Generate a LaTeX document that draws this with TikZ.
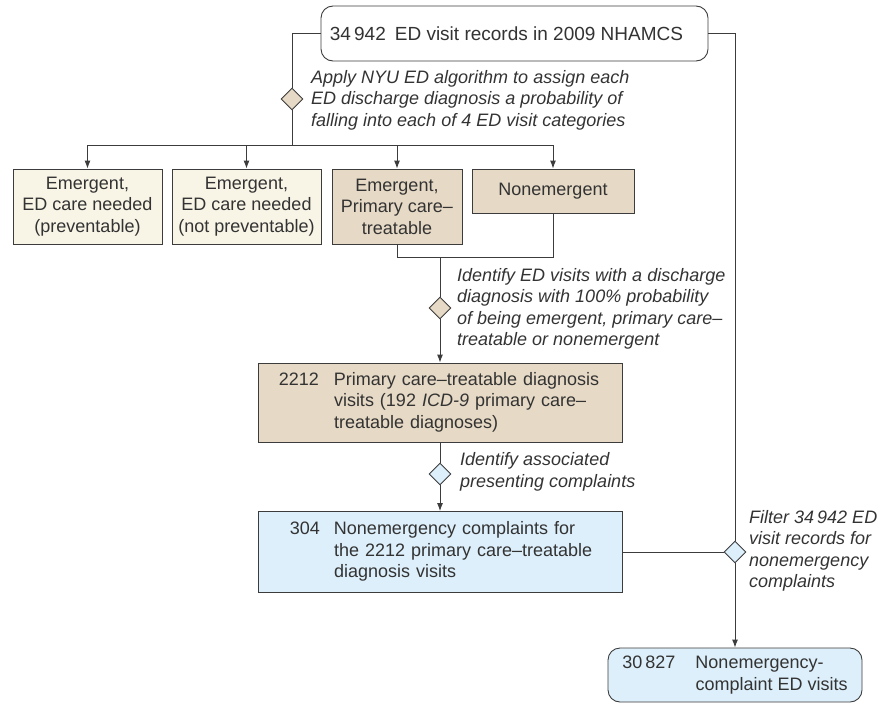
\documentclass[tikz,border=0pt]{standalone}
\usepackage{fontspec}
\setmainfont{Liberation Sans}
\usetikzlibrary{shapes.geometric,arrows.meta}
\definecolor{cream}{HTML}{F8F4E6}
\definecolor{tan}{HTML}{E6D9C5}
\definecolor{lblue}{HTML}{DDEFFA}
\definecolor{txt}{HTML}{333333}
\definecolor{ln}{HTML}{3C3C3C}
\begin{document}
\begin{tikzpicture}[x=1pt,y=1pt,
  font=\fontsize{18}{21.5}\selectfont, text=txt,
  box/.style={draw=ln, line width=0.9pt, inner sep=0pt, align=center},
  rbox/.style={box, rounded corners=12pt},
  dia/.style={diamond, draw=ln, line width=0.9pt, inner sep=0pt, minimum width=22pt, minimum height=22pt},
  note/.style={anchor=west, align=left, inner sep=0pt, font=\fontsize{18}{21.5}\selectfont\itshape},
  conn/.style={draw=ln, line width=0.9pt},
  arr/.style={conn, -{Latex[length=8pt,width=6pt]}}]
\useasboundingbox (0,0) rectangle (885,-704);

% top box
\node[rbox, fill=white, minimum width=387pt, minimum height=55pt, font=\fontsize{19}{22}\selectfont] (top) at (514.5,-33.5)
  {34\,942\hspace{9pt}ED visit records in 2009 NHAMCS\hspace{16pt}};

% diamond 1 and annotation
\node[dia, fill=tan] (d1) at (292,-99) {};
\node[note] (a1) at (311,-100) {Apply NYU ED algorithm to assign each\\ED discharge diagnosis a probability of\\falling into each of 4 ED visit categories};

% four category boxes
\node[box, fill=cream, minimum width=149pt, minimum height=75pt] (c1) at (87.5,-206.5) {Emergent,\\ED care needed\\(preventable)};
\node[box, fill=cream, minimum width=149pt, minimum height=75pt] (c2) at (246.5,-206.5) {Emergent,\\ED care needed\\(not preventable)};
\node[box, fill=tan, minimum width=130pt, minimum height=75pt] (c3) at (397,-206.5) {Emergent,\\Primary care–\\treatable};
\node[box, fill=tan, minimum width=162pt, minimum height=44pt] (c4) at (553,-191) {Nonemergent};

\coordinate (bus) at (292,-145);
\draw[conn] (top.west) -| (d1.north);
\draw[conn] (d1.south) -- (bus);
\draw[conn] (bus -| c1.north) -- (bus -| c4.north);
\draw[arr] (bus -| c1.north) -- (c1.north);
\draw[arr] (bus -| c2.north) -- (c2.north);
\draw[arr] (bus -| c3.north) -- (c3.north);
\draw[arr] (bus -| c4.north) -- (c4.north);

% merge
\coordinate (m) at (440,-257);
\draw[conn] (c3.south) |- (c4.south |- m) -- (c4.south);

\node[dia, fill=tan] (d2) at (440,-308) {};
\node[note] (a2) at (457,-309) {Identify ED visits with a discharge\\diagnosis with 100\% probability\\of being emergent, primary care–\\treatable or nonemergent};

\node[box, fill=tan, minimum width=364pt, minimum height=79pt, text width=322pt, inner xsep=21pt, align=left] (b2212) at (440,-402.5)
  {\makebox[40pt][r]{2212}\hspace{15pt}\begin{tabular}[t]{@{}l@{}}Primary care–treatable diagnosis\\visits (192 \textit{ICD-9} primary care–\\treatable diagnoses)\end{tabular}};

\draw[conn] (m) -- (d2.north);
\draw[arr] (d2.south) -- (b2212.north);

\node[dia, fill=lblue] (d3) at (440,-474) {};
\node[note] (a3) at (460,-472) {Identify associated\\presenting complaints};

\node[box, fill=lblue, minimum width=364pt, minimum height=81pt, text width=322pt, inner xsep=21pt, align=left] (b304) at (440,-552)
  {\makebox[41pt][r]{304}\hspace{14pt}\begin{tabular}[t]{@{}l@{}}Nonemergency complaints for\\the 2212 primary care–treatable\\diagnosis visits\end{tabular}};

\draw[conn] (b2212.south) -- (d3.north);
\draw[arr] (d3.south) -- (b304.north);

% right branch
\node[dia, fill=lblue] (d4) at (735,-552) {};
\node[note] (a4) at (749,-551) {Filter 34\,942 ED\\visit records for\\nonemergency\\complaints};

\node[rbox, fill=lblue, minimum width=254pt, minimum height=54pt, align=left] (bot) at (735,-675)
  {30\,827\hspace{20pt}\begin{tabular}[t]{@{}l@{}}Nonemergency-\\complaint ED visits\end{tabular}};

\draw[conn] (top.east) -| (d4.north);
\draw[arr] (d4.south) -- (bot.north);
\draw[conn] (b304.east) -- (d4.west);
\end{tikzpicture}
\end{document}
